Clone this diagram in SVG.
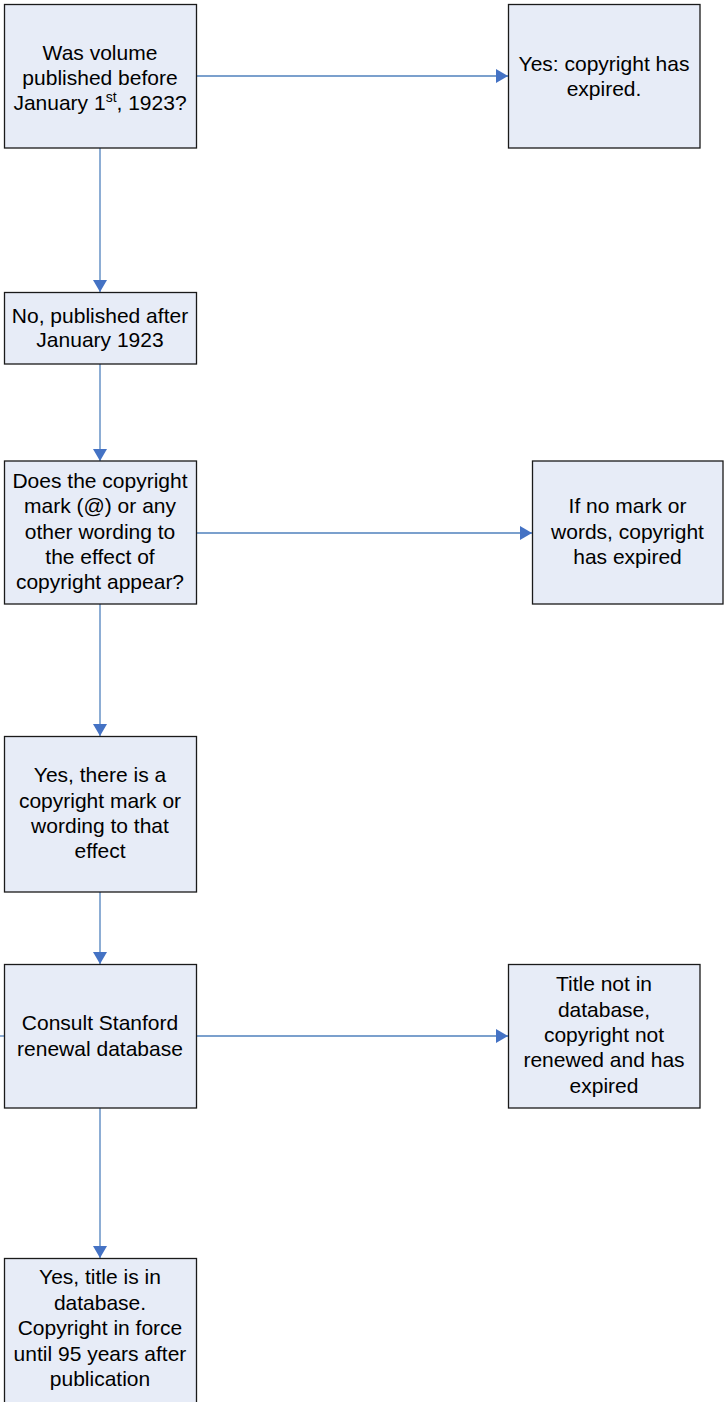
<svg xmlns="http://www.w3.org/2000/svg" width="724" height="1402" viewBox="0 0 724 1402">
<style>
.box{fill:#E7ECF7;stroke:#1a1a1a;stroke-width:1.3}
.t{font-family:"Liberation Sans",Arial,sans-serif;font-size:21px;fill:#000;text-anchor:middle}
.c{stroke:#4F81BD;stroke-width:1.3;fill:none}
</style>
<defs>
<marker id="ah" viewBox="0 0 12 14" refX="12" refY="7" markerWidth="12" markerHeight="14" markerUnits="userSpaceOnUse" orient="auto">
<path d="M0,0 L12,7 L0,14 Z" fill="#4472C4"/>
</marker>
</defs>
<rect width="724" height="1402" fill="#fff"/>
<g id="connectors">
<line class="c" x1="196" y1="76" x2="508" y2="76" marker-end="url(#ah)"/>
<line class="c" x1="100" y1="148" x2="100" y2="292" marker-end="url(#ah)"/>
<line class="c" x1="100" y1="364" x2="100" y2="461" marker-end="url(#ah)"/>
<line class="c" x1="196" y1="533" x2="532" y2="533" marker-end="url(#ah)"/>
<line class="c" x1="100" y1="604" x2="100" y2="736" marker-end="url(#ah)"/>
<line class="c" x1="100" y1="892" x2="100" y2="964" marker-end="url(#ah)"/>
<line class="c" x1="196" y1="1036" x2="508" y2="1036" marker-end="url(#ah)"/>
<line class="c" x1="0" y1="1036" x2="4" y2="1036"/>
<line class="c" x1="100" y1="1108" x2="100" y2="1258" marker-end="url(#ah)"/>
</g>
<g id="n1">
<rect class="box" x="4.5" y="4.5" width="192" height="143.5"/>
<text class="t"><tspan x="100" y="60">Was volume</tspan><tspan x="100" y="85">published before</tspan><tspan x="100" y="110">January 1<tspan font-size="14" dy="-8">st</tspan><tspan dy="8">, 1923?</tspan></tspan></text>
</g>
<g id="n2">
<rect class="box" x="508.5" y="4.5" width="191.5" height="143.5"/>
<text class="t"><tspan x="604" y="71">Yes: copyright has</tspan><tspan x="604" y="96">expired.</tspan></text>
</g>
<g id="n3">
<rect class="box" x="4.5" y="292.5" width="192" height="71.5"/>
<text class="t"><tspan x="100" y="323">No, published after</tspan><tspan x="100" y="347">January 1923</tspan></text>
</g>
<g id="n4">
<rect class="box" x="4.5" y="461" width="192" height="143"/>
<text class="t"><tspan x="100" y="488">Does the copyright</tspan><tspan x="100" y="513">mark (@) or any</tspan><tspan x="100" y="538.5">other wording to</tspan><tspan x="100" y="564">the effect of</tspan><tspan x="100" y="589">copyright appear?</tspan></text>
</g>
<g id="n5">
<rect class="box" x="532.5" y="461" width="190.5" height="143"/>
<text class="t"><tspan x="627.5" y="513">If no mark or</tspan><tspan x="627.5" y="538.5">words, copyright</tspan><tspan x="627.5" y="564">has expired</tspan></text>
</g>
<g id="n6">
<rect class="box" x="4.5" y="736.5" width="192" height="155.5"/>
<text class="t"><tspan x="100" y="782">Yes, there is a</tspan><tspan x="100" y="807.5">copyright mark or</tspan><tspan x="100" y="833">wording to that</tspan><tspan x="100" y="858">effect</tspan></text>
</g>
<g id="n7">
<rect class="box" x="4.5" y="964.5" width="192" height="143.5"/>
<text class="t"><tspan x="100" y="1030">Consult Stanford</tspan><tspan x="100" y="1056">renewal database</tspan></text>
</g>
<g id="n8">
<rect class="box" x="508.5" y="964.5" width="191.5" height="143.5"/>
<text class="t"><tspan x="604" y="991">Title not in</tspan><tspan x="604" y="1016.5">database,</tspan><tspan x="604" y="1042">copyright not</tspan><tspan x="604" y="1067">renewed and has</tspan><tspan x="604" y="1092.5">expired</tspan></text>
</g>
<g id="n9">
<rect class="box" x="4.5" y="1258.5" width="192" height="150"/>
<text class="t"><tspan x="100" y="1284">Yes, title is in</tspan><tspan x="100" y="1309.5">database.</tspan><tspan x="100" y="1335">Copyright in force</tspan><tspan x="100" y="1360.5">until 95 years after</tspan><tspan x="100" y="1386">publication</tspan></text>
</g>
</svg>
